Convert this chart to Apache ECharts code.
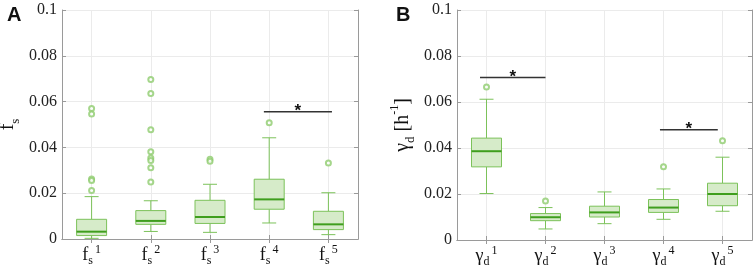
<!DOCTYPE html>
<html>
<head>
<meta charset="utf-8">
<script src="https://cdn.jsdelivr.net/npm/echarts@6/dist/echarts.min.js"></script>
<style>
  html, body { margin: 0; padding: 0; background: #fff; }
  #chart { width: 754px; height: 269px; }
</style>
</head>
<body>
<div id="chart"></div>
<script>
const cats = ['1', '2', '3', '4', '5']

// [min, Q1, median, Q3, max]
const boxesA = [
  [0.0003, 0.0015, 0.0032, 0.0086, 0.0185],
  [0.0033, 0.0064, 0.0079, 0.0124, 0.0167],
  [0.0029, 0.0068, 0.0096, 0.0169, 0.0239],
  [0.0070, 0.0130, 0.0173, 0.0261, 0.0442],
  [0.0019, 0.0041, 0.0064, 0.0121, 0.0202]
]
const outliersA = [
  [0, 0.0570], [0, 0.0546], [0, 0.0262], [0, 0.0255], [0, 0.0212],
  [1, 0.0697], [1, 0.0635], [1, 0.0477], [1, 0.0381], [1, 0.0354], [1, 0.0343], [1, 0.0311], [1, 0.0249],
  [2, 0.0348], [2, 0.0340],
  [3, 0.0508],
  [4, 0.0332]
]
// significance bars: [from (category index), to, y]
const sigA = [[2.91, 4.06, 0.0556]]

const boxesB = [
  [0.0202, 0.0318, 0.0386, 0.0443, 0.0612],
  [0.0048, 0.0084, 0.0099, 0.0115, 0.0141],
  [0.0071, 0.0100, 0.0120, 0.0147, 0.0209],
  [0.0090, 0.0120, 0.0141, 0.0176, 0.0222],
  [0.0125, 0.0149, 0.0200, 0.0247, 0.0360]
]
const outliersB = [
  [0, 0.0665],
  [1, 0.0170],
  [3, 0.0318],
  [4, 0.0431]
]
const sigB = [[-0.11, 1.0, 0.0707], [2.94, 3.92, 0.0479]]

const boxLine = '#7cc25a'
const boxFill = '#d6ebc9'
const medianColor = '#3f9e1e'
const axisColor = '#9a9a9a'
const gridColor = '#ebebeb'
const serif = 'Liberation Serif'

function renderBox(params, api) {
  const i = api.value(0)
  const p = k => api.coord([i, api.value(k)])
  const low = p(1), q1 = p(2), med = p(3), q3 = p(4), high = p(5)
  const x = low[0]
  const bw = 30, cw = 14
  const ls = { stroke: boxLine, lineWidth: 1 }
  return {
    type: 'group',
    children: [
      { type: 'line', shape: { x1: x, y1: low[1], x2: x, y2: q1[1] }, style: ls },
      { type: 'line', shape: { x1: x, y1: q3[1], x2: x, y2: high[1] }, style: ls },
      { type: 'line', shape: { x1: x - cw / 2, y1: low[1], x2: x + cw / 2, y2: low[1] }, style: ls },
      { type: 'line', shape: { x1: x - cw / 2, y1: high[1], x2: x + cw / 2, y2: high[1] }, style: ls },
      { type: 'rect', shape: { x: x - bw / 2, y: q3[1], width: bw, height: q1[1] - q3[1] },
        style: { fill: boxFill, stroke: boxLine, lineWidth: 1 } },
      { type: 'line', shape: { x1: x - bw / 2, y1: med[1], x2: x + bw / 2, y2: med[1] },
        style: { stroke: medianColor, lineWidth: 2 } }
    ]
  }
}

function renderSig(params, api) {
  const c0 = api.coord([0, api.value(2)])
  const band = api.size([1, 0])[0]
  const x1 = c0[0] + api.value(0) * band
  const x2 = c0[0] + api.value(1) * band
  const y = c0[1]
  return {
    type: 'group',
    children: [
      { type: 'line', shape: { x1: x1, y1: y, x2: x2, y2: y }, style: { stroke: '#333', lineWidth: 1.5 } },
      { type: 'text', x: (x1 + x2) / 2, y: y + 8,
        style: { text: '*', fill: '#111', fontSize: 17, fontWeight: 'bold',
          fontFamily: 'Liberation Sans', align: 'center', verticalAlign: 'bottom' } }
    ]
  }
}

const tickRich = {
  b: { fontSize: 18, fontFamily: serif, color: '#111', lineHeight: 23 },
  s: { fontSize: 12, fontFamily: serif, color: '#111', lineHeight: 12, verticalAlign: 'bottom' },
  p: { fontSize: 12, fontFamily: serif, color: '#111', lineHeight: 12, verticalAlign: 'top', padding: [0, 0, 0, 2] }
}

function axesFor(gi, sym, sub, name) {
  const xBase = {
    type: 'category', gridIndex: gi, data: cats,
    axisLine: { show: true, lineStyle: { color: axisColor } },
    axisTick: { show: true, inside: true, length: 4, alignWithLabel: true, lineStyle: { color: axisColor } },
    splitLine: { show: true, alignWithLabel: true, lineStyle: { color: gridColor } }
  }
  const yBase = {
    type: 'value', gridIndex: gi, min: 0, max: 0.1, interval: 0.02,
    axisLine: { show: true, lineStyle: { color: axisColor } },
    axisTick: { show: true, inside: true, length: 4, lineStyle: { color: axisColor } },
    splitLine: { show: true, lineStyle: { color: gridColor } }
  }
  return {
    x: [
      Object.assign({}, xBase, {
        position: 'bottom',
        axisLabel: { interval: 0, margin: 5, rich: tickRich, formatter: v => `{b|${sym}}{s|${sub}}{p|${v}}` }
      }),
      Object.assign({}, xBase, { position: 'top', axisLabel: { show: false }, splitLine: { show: false } })
    ],
    y: [
      Object.assign({}, yBase, {
        position: 'left',
        axisLabel: { margin: 5, formatter: v => `{n|${+v.toFixed(2)}}`,
          rich: { n: { fontSize: 16, fontFamily: serif, color: '#222' } } },
        name: name, nameLocation: 'middle', nameGap: 40, nameRotate: 90,
        nameTextStyle: { rich: {
          b: { fontSize: 20, fontFamily: serif, color: '#111', lineHeight: 28 },
          s: { fontSize: 13, fontFamily: serif, color: '#111', lineHeight: 13, verticalAlign: 'bottom' },
          p: { fontSize: 12, fontFamily: serif, color: '#111', lineHeight: 12, verticalAlign: 'top' }
        } }
      }),
      Object.assign({}, yBase, { position: 'right', axisLabel: { show: false }, splitLine: { show: false } })
    ]
  }
}

const axA = axesFor(0, 'f', 's', '{b|f}{s|s}')
const axB = axesFor(1, 'γ', 'd', '{b|γ}{s|d}{b| [h}{p|-1}{b|]}')

const chart = echarts.init(document.getElementById('chart'))
chart.setOption({
  animation: false,
  title: [
    { text: 'A', left: 2, top: 0, textStyle: { fontSize: 20, fontWeight: 'bold', fontFamily: 'Liberation Sans', color: '#111' } },
    { text: 'B', left: 391, top: 0, textStyle: { fontSize: 20, fontWeight: 'bold', fontFamily: 'Liberation Sans', color: '#111' } }
  ],
  grid: [
    { left: 62, right: 396, top: 10, bottom: 30, outerBoundsMode: 'none', containLabel: false },
    { left: 457, right: 2, top: 10, bottom: 29, outerBoundsMode: 'none', containLabel: false }
  ],
  xAxis: axA.x.concat(axB.x),
  yAxis: axA.y.concat(axB.y),
  series: [
    { type: 'custom', xAxisIndex: 0, yAxisIndex: 0, renderItem: renderBox,
      encode: { x: 0, y: [1, 2, 3, 4, 5] }, data: boxesA.map((b, i) => [i].concat(b)) },
    { type: 'scatter', xAxisIndex: 0, yAxisIndex: 0, symbol: 'emptyCircle', symbolSize: 5,
      itemStyle: { color: '#8fcc6e', borderWidth: 1 }, data: outliersA },
    { type: 'custom', xAxisIndex: 0, yAxisIndex: 0, renderItem: renderSig,
      encode: { x: [0, 1], y: 2 }, data: sigA },
    { type: 'custom', xAxisIndex: 2, yAxisIndex: 2, renderItem: renderBox,
      encode: { x: 0, y: [1, 2, 3, 4, 5] }, data: boxesB.map((b, i) => [i].concat(b)) },
    { type: 'scatter', xAxisIndex: 2, yAxisIndex: 2, symbol: 'emptyCircle', symbolSize: 5,
      itemStyle: { color: '#8fcc6e', borderWidth: 1 }, data: outliersB },
    { type: 'custom', xAxisIndex: 2, yAxisIndex: 2, renderItem: renderSig,
      encode: { x: [0, 1], y: 2 }, data: sigB }
  ]
})
</script>
</body>
</html>
